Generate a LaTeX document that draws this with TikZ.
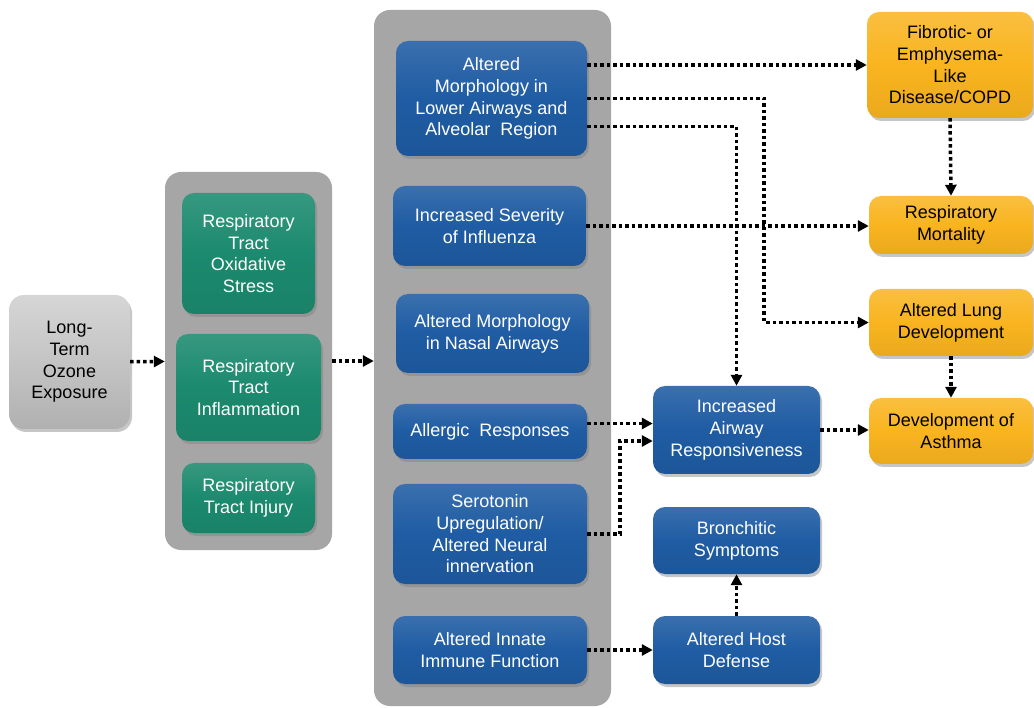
\documentclass[tikz,border=0pt]{standalone}
\usepackage{fontspec}
\setmainfont{Liberation Sans}
\usetikzlibrary{arrows.meta,shadows,calc}
\definecolor{panelgray}{HTML}{A6A6A6}
\definecolor{boxblue}{HTML}{1F5CA3}
\definecolor{boxgreen}{HTML}{1B8A6E}
\definecolor{boxgold}{HTML}{F9B41F}
\definecolor{boxgray}{HTML}{C4C4C4}
\begin{document}
\begin{tikzpicture}[x=1pt, y=-1pt,
  font=\fontsize{18}{21.7}\selectfont,
  panel/.style={fill=panelgray, rounded corners=16pt, inner sep=0pt},
  box/.style={rounded corners=12pt, align=center, inner sep=0pt,
    drop shadow={shadow xshift=2pt, shadow yshift=-3pt, opacity=0.45}},
  bluebox/.style={box, text=white, top color=boxblue!88!white, bottom color=boxblue!94!black, middle color=boxblue},
  greenbox/.style={box, text=white, top color=boxgreen!88!white, bottom color=boxgreen!94!black, middle color=boxgreen},
  goldbox/.style={box, text=black, top color=boxgold!85!white, bottom color=boxgold!94!black, middle color=boxgold},
  graybox/.style={box, text=black, top color=boxgray!70!white, bottom color=boxgray!90!black, middle color=boxgray},
  arr/.style={line width=3.5pt, dash pattern=on 3.5pt off 3pt, -{Triangle[length=11pt,width=11pt]}}]
\useasboundingbox (0,0) rectangle (1034,708);
% gray group panels
\node[panel, minimum width=167, minimum height=378] (p1) at (248.5,361) {};
\node[panel, minimum width=237, minimum height=696] (p2) at (492.5,358) {};
% exposure
\node[graybox, minimum width=121, minimum height=134, rounded corners=15pt] (oz) at (69.5,362) {Long-\\Term\\Ozone\\Exposure};
% respiratory tract effects
\node[greenbox, minimum width=133, minimum height=121] (ox) at (248.5,253.5) {Respiratory\\Tract\\Oxidative\\Stress};
\node[greenbox, minimum width=145, minimum height=107] (infl) at (248.5,387.5) {Respiratory\\Tract\\Inflammation};
\node[greenbox, minimum width=133, minimum height=70] (inj) at (248.5,498) {Respiratory\\Tract Injury};
% intermediate effects
\node[bluebox, minimum width=191, minimum height=115] (morph) at (491.5,98.5) {Altered\\Morphology in\\Lower Airways and\\Alveolar~ Region};
\node[bluebox, minimum width=193, minimum height=80] (flu) at (489.5,226) {Increased Severity\\of Influenza};
\node[bluebox, minimum width=193, minimum height=79] (nasal) at (492.5,333.5) {Altered Morphology\\in Nasal Airways};
\node[bluebox, minimum width=194, minimum height=55] (allerg) at (490,431.5) {Allergic~ Responses};
\node[bluebox, minimum width=194, minimum height=100] (sero) at (490,534) {Serotonin\\Upregulation/\\Altered Neural\\innervation};
\node[bluebox, minimum width=194, minimum height=68] (immune) at (490,650) {Altered Innate\\Immune Function};
\node[bluebox, minimum width=167, minimum height=88] (iar) at (736.5,430) {Increased\\Airway\\Responsiveness};
\node[bluebox, minimum width=167, minimum height=67] (bronch) at (736.5,540.5) {Bronchitic\\Symptoms};
\node[bluebox, minimum width=167, minimum height=68] (host) at (736.5,650) {Altered Host\\Defense};
% outcomes
\node[goldbox, minimum width=166, minimum height=106] (fib) at (950,65) {Fibrotic- or\\Emphysema-\\Like\\Disease/COPD};
\node[goldbox, minimum width=164, minimum height=58] (mort) at (951,225) {Respiratory\\Mortality};
\node[goldbox, minimum width=164, minimum height=67] (lung) at (951,322.5) {Altered Lung\\Development};
\node[goldbox, minimum width=164, minimum height=66] (asth) at (951,431) {Development of\\Asthma};
% connectors
\draw[arr] (oz) -- (p1);
\draw[arr] (p1.east) -- (p1.east -| p2.west);
\draw[arr] (morph.east |- fib.west) -- (fib.west);
\draw[arr] (morph.east) -- ++(177,0) |- (lung.west);
\draw[arr] ($(morph.east)+(0,28)$) -| (iar.north);
\draw[arr] (flu.east) -- (flu.east -| mort.west);
\draw[arr] (fib.south) -- (mort.north);
\draw[arr] (lung.south) -- (asth.north);
\draw[arr] ([yshift=8]allerg.east) -- ([yshift=8]allerg.east -| iar.west);
\draw[arr] (sero.east) -- ++(33,0) |- ([yshift=-11]iar.west);
\draw[arr] (iar.east) -- (iar.east -| asth.west);
\draw[arr] (immune.east) -- (host.west);
\draw[arr] (host.north) -- (bronch.south);
\end{tikzpicture}
\end{document}
